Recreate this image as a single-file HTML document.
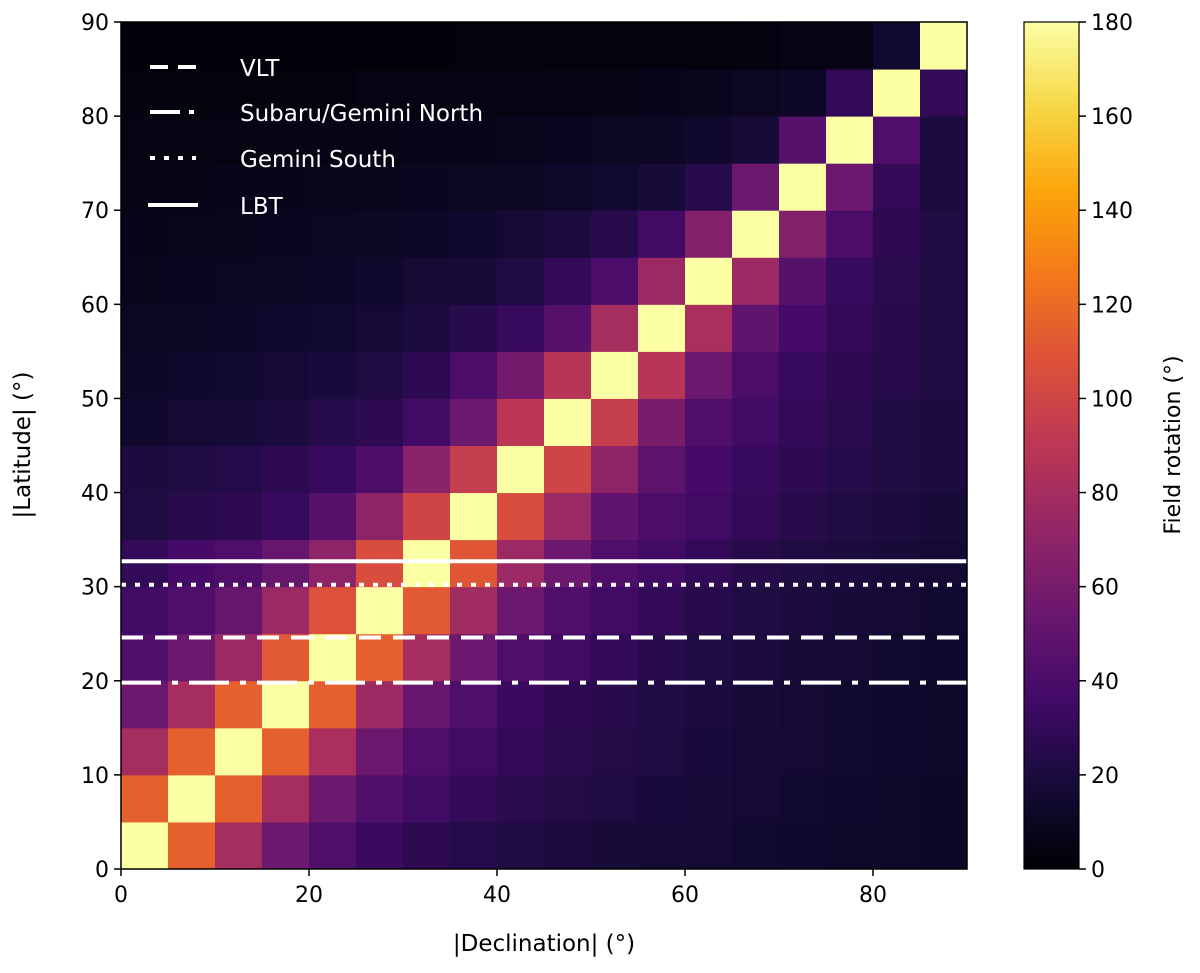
<!DOCTYPE html>
<html><head><meta charset="utf-8"><style>
body{margin:0;background:#fff;}
svg{display:block;font-family:"DejaVu Sans","Liberation Sans",sans-serif;}
</style></head><body>
<svg id="chart" width="1200" height="973" viewBox="0 0 1200 973">
<defs>
<linearGradient id="cbar" x1="0" y1="1" x2="0" y2="0">
<stop offset="0" stop-color="#000004"/><stop offset="0.1" stop-color="#160b39"/><stop offset="0.2" stop-color="#420a68"/><stop offset="0.3" stop-color="#6a176e"/><stop offset="0.4" stop-color="#932667"/><stop offset="0.5" stop-color="#bc3754"/><stop offset="0.6" stop-color="#dd513a"/><stop offset="0.7" stop-color="#f37819"/><stop offset="0.8" stop-color="#fca50a"/><stop offset="0.9" stop-color="#f6d746"/><stop offset="1" stop-color="#fcffa4"/>
</linearGradient>
</defs>
<g id="cells"></g>
<g id="hlines"></g>
<rect x="121" y="22" width="846" height="847" fill="none" stroke="#000" stroke-width="1.5"/>
<g id="axes" font-size="22" fill="#000"></g>
<g font-size="23" fill="#fff">
<line x1="150" y1="67" x2="196" y2="67" stroke="#fff" stroke-width="4" stroke-dasharray="18,10"/>
<text x="240" y="76">VLT</text>
<line x1="150" y1="112" x2="196" y2="112" stroke="#fff" stroke-width="4" stroke-dasharray="30,9,5,9"/>
<text x="240" y="121">Subaru/Gemini North</text>
<line x1="150" y1="158" x2="196" y2="158" stroke="#fff" stroke-width="4" stroke-dasharray="5,9"/>
<text x="240" y="167">Gemini South</text>
<line x1="148" y1="205" x2="198" y2="205" stroke="#fff" stroke-width="4"/>
<text x="240" y="214">LBT</text>
</g>
<rect x="1024" y="22" width="55" height="847" fill="url(#cbar)" stroke="#000" stroke-width="1.2"/>
<g id="cbaxis" font-size="22"></g>
<text x="544" y="951" font-size="23" text-anchor="middle">|Declination| (°)</text>
<text transform="translate(30,445) rotate(-90)" font-size="23" text-anchor="middle">|Latitude| (°)</text>
<text transform="translate(1180,445) rotate(-90)" font-size="22" text-anchor="middle">Field rotation (°)</text>
</svg>
<script>
const decEdges = [0,5,10,15,20,25,30,35,40,45,50,55,60,65,70,75,80,85,90];
const latEdges = [0,5,10,15,20,25,30,35,40,45,50,55,60,65,70,75,80,85,90];
// rows: latitude bins bottom -> top; columns: declination bins left -> right
const rotation = [
[180,115,80,55,42,33,28,24,22,20,18,17,16,15,14,13,13,12],
[115,180,115,80,55,42,35,30,26,23,21,19,18,16,15,14,13,12],
[80,115,180,115,82,55,42,35,30,26,23,21,19,17,16,15,14,13],
[55,80,115,180,115,75,52,42,33,28,25,22,20,18,16,15,14,13],
[42,55,75,112,180,115,80,55,42,35,30,25,22,20,18,16,15,14],
[35,42,52,75,108,180,112,78,55,42,35,30,25,22,20,18,16,15],
[30,38,42,52,70,105,180,110,75,55,42,35,30,25,22,20,18,16],
[22,25,28,32,45,70,100,180,105,75,50,40,35,30,25,22,20,18],
[20,22,24,28,32,40,68,95,180,100,70,48,38,32,28,24,22,20],
[14,16,18,20,24,28,35,55,90,180,95,60,42,35,30,26,22,20],
[12,14,15,17,19,22,28,40,58,88,180,88,55,40,32,28,25,22],
[10,11,12,14,15,17,20,25,32,45,80,180,82,50,38,30,25,22],
[8,9,10,11,12,14,16,18,22,30,40,75,180,75,45,32,26,22],
[7,8,8,9,10,11,12,14,16,20,25,35,65,180,65,40,28,22],
[6,6,7,7,8,8,9,10,11,13,15,18,25,55,180,55,30,20],
[5,5,5,6,6,6,7,7,8,9,10,11,14,18,45,180,42,20],
[4,4,4,4,4,5,5,5,5,6,6,7,8,10,12,30,180,30],
[2,2,2,2,2,2,2,3,3,3,3,3,3,4,5,6,15,180]
];
const obsNames = ["LBT","Gemini South","VLT","Subaru/Gemini North"];
const obsLat = [32.7,30.2,24.6,19.8];
const xTicks = [0,20,40,60,80];
const yTicks = [0,10,20,30,40,50,60,70,80,90];
const cbTicks = [0,20,40,60,80,100,120,140,160,180];

const NS="http://www.w3.org/2000/svg";
const X0=121,X1=967,Y0=869,Y1=22,CB0=869,CB1=22;
const xs=v=>X0+(v-0)/90*(X1-X0);
const ys=v=>Y0-(v-0)/90*(Y0-Y1);
const cs=v=>CB0-v/180*(CB0-CB1);
const stops=[[0,0,4],[22,11,57],[66,10,104],[106,23,110],[147,38,103],[188,55,84],[221,81,58],[243,120,25],[252,165,10],[246,215,70],[252,255,164]];
function inferno(v){let t=Math.max(0,Math.min(1,v/180))*10;let i=Math.min(9,Math.floor(t));let f=t-i;const a=stops[i],b=stops[i+1];return `rgb(${Math.round(a[0]+(b[0]-a[0])*f)},${Math.round(a[1]+(b[1]-a[1])*f)},${Math.round(a[2]+(b[2]-a[2])*f)})`;}
function mk(tag,attrs,parent){const e=document.createElementNS(NS,tag);for(const k in attrs)e.setAttribute(k,attrs[k]);parent.appendChild(e);return e;}
const cells=document.getElementById('cells');
rotation.forEach((row,r)=>row.forEach((v,c)=>{
 const x=xs(decEdges[c]),x2=xs(decEdges[c+1]),y=ys(latEdges[r+1]),y2=ys(latEdges[r]);
 const el=mk('rect',{x:x,y:y,width:x2-x+0.5,height:y2-y+0.5,fill:inferno(v)},cells);
 
 
}));
const dashes={"LBT":"none","Gemini South":"5,9","VLT":"22,12","Subaru/Gemini North":"40,11,6,11"};
const hl=document.getElementById('hlines');
obsLat.forEach((lat,i)=>{
 const el=mk('line',{x1:X0,x2:X1,y1:ys(lat),y2:ys(lat),stroke:'#fff','stroke-width':4,'stroke-dasharray':dashes[obsNames[i]]},hl);
 
 
});
const ax=document.getElementById('axes');
xTicks.forEach(t=>{
 const l=mk('line',{x1:xs(t),x2:xs(t),y1:Y0,y2:Y0+7,stroke:'#000','stroke-width':1.5},ax);
 
 
 const tx=mk('text',{x:xs(t),y:Y0+33,'text-anchor':'middle'},ax);tx.textContent=t;
 
 
});
yTicks.forEach(t=>{
 const l=mk('line',{x1:X0-7,x2:X0,y1:ys(t),y2:ys(t),stroke:'#000','stroke-width':1.5},ax);
 
 
 const tx=mk('text',{x:X0-12,y:ys(t)+8,'text-anchor':'end'},ax);tx.textContent=t;
 
 
});
const cb=document.getElementById('cbaxis');
cbTicks.forEach(t=>{
 const l=mk('line',{x1:1079,x2:1086,y1:cs(t),y2:cs(t),stroke:'#000','stroke-width':1.5},cb);
 
 
 const tx=mk('text',{x:1091,y:cs(t)+8},cb);tx.textContent=t;
 
 
});
</script>
</body></html>
